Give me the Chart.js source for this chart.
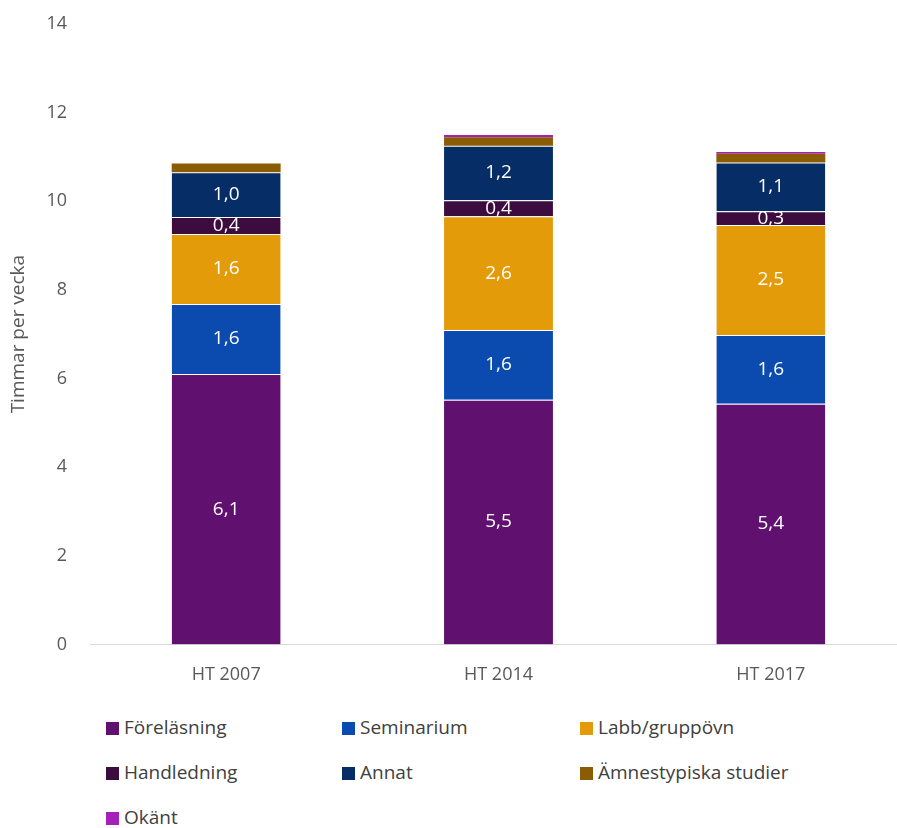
<!DOCTYPE html>
<html>
<head>
<meta charset="utf-8">
<script src="https://cdn.jsdelivr.net/npm/chart.js@4"></script>
<style>
    html, body { margin: 0; padding: 0; background: #fff; overflow: hidden; }
    #wrap { position: relative; width: 897px; height: 828px; overflow: hidden; }
    #chartBox { position: absolute; left: 0; top: -10px; width: 910px; height: 716px; }
    #legend { position: absolute; left: 106px; top: 713px; width: 760px; font-family: "Open Sans", sans-serif; font-size: 19px; color: #404040; }
    .item { position: absolute; white-space: nowrap; line-height: 28px; }
    .sw { display: inline-block; width: 13px; height: 13px; margin-right: 5px; vertical-align: -1px; }
</style>
</head>
<body>
<div id="wrap">
    <div id="chartBox"><canvas id="studyChart" width="910" height="716"></canvas></div>
    <div id="legend"></div>
</div>
<script>
var categories = ['HT 2007', 'HT 2014', 'HT 2017'];
var seriesNames = ['Föreläsning', 'Seminarium', 'Labb/gruppövn', 'Handledning', 'Annat', 'Ämnestypiska studier', 'Okänt'];
var forelasning = [6.1, 5.52, 5.43];
var seminarium = [1.58, 1.57, 1.55];
var labb = [1.58, 2.57, 2.48];
var handledning = [0.38, 0.36, 0.31];
var annat = [1.01, 1.23, 1.1];
var amnestypiska = [0.2, 0.19, 0.2];
var okant = [0, 0.05, 0.04];
var yTicks = [0, 2, 4, 6, 8, 10, 12, 14];

// which series get a value label inside the bar
var showLabel = [true, true, true, true, true, false, false];

var colors = ['#60106e', '#0b4baf', '#e39b0a', '#3d0c3f', '#062d66', '#8a5c05', '#a520b8'];
var seriesValues = [forelasning, seminarium, labb, handledning, annat, amnestypiska, okant];

var fontFamily = '"Open Sans", sans-serif';

var datasets = seriesValues.map(function (vals, i) {
    return {
        label: seriesNames[i],
        data: vals,
        backgroundColor: colors[i],
        borderColor: 'rgba(255,255,255,0.35)',
        borderWidth: i < 5 ? { top: 1 } : 0,
        borderSkipped: 'bottom',
        barPercentage: 0.4,
        categoryPercentage: 1.0
    };
});

// Draw the Swedish-formatted value inside each segment
var segmentLabels = {
    id: 'segmentLabels',
    afterDatasetsDraw: function (chart) {
        var ctx = chart.ctx;
        ctx.save();
        ctx.font = '19px ' + fontFamily;
        ctx.fillStyle = '#ffffff';
        ctx.textAlign = 'center';
        ctx.textBaseline = 'middle';
        chart.data.datasets.forEach(function (ds, i) {
            if (!showLabel[i]) return;
            chart.getDatasetMeta(i).data.forEach(function (bar, j) {
                var txt = ds.data[j].toFixed(1).replace('.', ',');
                ctx.fillText(txt, bar.x, (bar.y + bar.base) / 2);
            });
        });
        ctx.restore();
    }
};

var chart = new Chart(document.getElementById('studyChart'), {
    type: 'bar',
    data: { labels: categories, datasets: datasets },
    options: {
        responsive: false,
        animation: false,
        layout: { padding: { top: 2, right: 3, left: 0, bottom: 0 } },
        scales: {
            x: {
                stacked: true,
                grid: { display: false, drawTicks: false },
                border: { color: '#d9d9d9', width: 1 },
                ticks: { color: '#595959', font: { family: fontFamily, size: 18 }, padding: 20 }
            },
            y: {
                stacked: true,
                min: 0,
                max: 14,
                afterFit: function (scale) { scale.width = 90; },
                afterBuildTicks: function (scale) {
                    scale.ticks = yTicks.map(function (v) { return { value: v }; });
                },
                grid: { display: false, drawTicks: false },
                border: { display: false },
                ticks: { color: '#595959', font: { family: fontFamily, size: 18 }, padding: 23 },
                title: {
                    display: true,
                    text: 'Timmar per vecka',
                    color: '#595959',
                    font: { family: fontFamily, size: 19 },
                    padding: { top: 7, bottom: 0 }
                }
            }
        },
        plugins: {
            legend: { display: false },
            tooltip: { enabled: false }
        }
    },
    plugins: [segmentLabels]
});

// Legend laid out as a 3-column grid from the chart's datasets
var legendEl = document.getElementById('legend');
var colX = [0, 236, 474];
chart.data.datasets.forEach(function (ds, i) {
    var item = document.createElement('div');
    item.className = 'item';
    item.style.left = colX[i % 3] + 'px';
    item.style.top = (Math.floor(i / 3) * 45) + 'px';
    item.innerHTML = '<span class="sw" style="background:' + ds.backgroundColor + '"></span>' + ds.label;
    legendEl.appendChild(item);
});
</script>
</body>
</html>
